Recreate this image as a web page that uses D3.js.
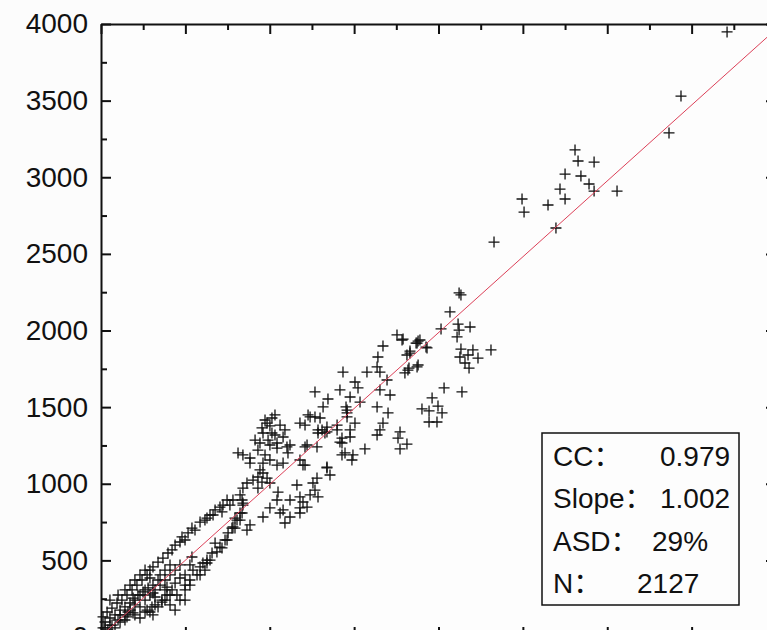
<!DOCTYPE html>
<html>
<head>
<meta charset="utf-8">
<script src="https://cdn.jsdelivr.net/npm/d3@7"></script>
<style>
  body { margin: 0; background: #fcfcfc; }
  svg { display: block; font-family: "Liberation Sans", Arial, "Noto Sans CJK SC", sans-serif; }
</style>
</head>
<body>
<div id="chart"></div>
<script>
// scatter values (x, y pairs)
const xVals = [2809,2827,2922,2750,2844,2892,2720,2922,3058,2750,2495,2507,2649,2696,2329,3710,3437,3366,
  2133,2122,2068,2015,2116,2187,2122,2110,2133,2204,2311,2127,2175,2234,2157,2181,2033,2139,1962,1997,1902,1944,2021,1944,1991,
  1790,1867,1890,1879,1873,1932,1831,1813,1873,1825,1801,
  1754,1784,1926,1671,1831,1641,1879,1819,1636,1576,1653,1434,1695,1505,1523,1416,1268,1653,1713,1345,1476,1535,1316,1636,1458,1701,
  1239,1298,1458,1209,1505,1671,1339,1286,1327,1399,1476,1653,1636,1772,1760,1428,1476,1209,1280,1428,1813,1772,1564,1428,1493,1487,1339,1197,
  1452,1031,1227,1268,1179,984,1001,1061,1458,1310,1339,1399,1286,960,1013,1079,942,990,1043,1102,930,1043,1416,1221,1446,1108,812,841,883,
  1001,960,1043,1079,1179,883,1209,1339,1357,942,960,930,984,954,901,1001,1280,1256,865,841,930,1049,1161,1268,1239,1179,1286,824,782,836,
  1043,1197,1120,747,764,841,705,1001,1179,1221,1079,717,824,1179,1061,664,628,794,960,1120,883,1090,782,
  723,616,587,539,516,480,468,439,421,397,367,338,308,290,273,243,213,184,154,124,95,65,36,12,
  338,308,279,249,219,190,172,142,113,83,53,24,308,361,302,231,190,154,113,65,
  468,439,421,391,361,338,308,273,391,450,
  527,545,587,604,628,569,539,676,687,705,753,776,806,836,841,865,747,658,628,
  53,101,142,201,261,12,41,172,231,290,350,379,409,113,160,201,261,320,379,498,527,83,142,231,290,409,439,498,
  261,290,320,350,379,409,439,468,231,201,172,142,101,53,24,201,261,320,379,409,498,527,468,498,
  587,616,646,717,735,794,824,498,557,646,676,
  972,1013,954,1031,1090,1001,913,972,1120];
const yVals = [3178,3106,3099,3021,3008,2956,2923,2910,2910,2858,2858,2773,2819,2669,2577,3948,3530,3289,
  2232,2245,2121,2010,2042,2023,2003,1958,1879,1873,1873,1827,1840,1820,1788,1755,1625,1599,1560,1507,1488,1475,1462,1403,1403,
  1944,1918,1938,1931,1918,1886,1866,1840,1762,1755,1723,
  1971,1938,1892,1899,1853,1827,1775,1742,1762,1729,1729,1729,1677,1664,1625,1612,1599,1612,1579,1553,1566,1533,1501,1501,1481,1462,
  1436,1429,1436,1383,1396,1396,1370,1351,1331,1351,1351,1351,1318,1338,1298,1298,1305,1240,1240,1266,1259,1227,1227,1188,1188,1155,1109,1122,
  1501,1449,1449,1436,1396,1396,1377,1383,1462,1351,1338,1383,1331,1331,1331,1305,1266,1285,1266,1240,1220,1233,1272,1253,1201,1201,1201,1188,1168,
  1155,1135,1122,1135,1155,1135,1122,1103,1057,1090,1070,1044,1037,1011,1024,1005,1037,1005,1005,972,972,946,992,959,927,914,914,927,894,894,
  894,881,894,894,861,861,848,842,842,848,829,816,809,809,809,796,776,776,783,783,731,744,718,
  861,763,750,711,679,653,620,600,568,548,515,489,457,437,405,372,339,307,274,241,222,189,163,131,
  372,339,320,294,274,254,222,196,176,144,124,98,287,241,196,196,157,131,98,78,
  385,352,307,274,228,196,144,176,326,274,
  470,437,457,483,502,405,522,613,555,587,679,711,763,809,874,698,633,548,483,
  241,274,307,372,437,59,46,339,405,385,405,437,470,144,163,209,241,261,307,339,372,59,111,124,163,209,176,405,
  307,274,307,339,372,405,437,470,274,241,176,144,111,78,59,144,163,209,241,274,307,339,241,241,
  405,437,502,581,633,711,763,633,698,796,829,
  1416,1429,1364,1318,1351,1253,1285,1188,1253];

// fitted line end points
const fitX = [0, 4000];
const fitY = [6, 3966];

const yTicks = [0, 500, 1000, 1500, 2000, 2500, 3000, 3500, 4000];
const minorTicks = [250, 750, 1250, 1750, 2250, 2750, 3250, 3750];

const statLabels = ["CC：", "Slope：", "ASD：", "N："];
const statValues = ["0.979", "1.002", "29%", "2127"];

const width = 767, height = 630;
const margin = ({ top: 24, left: 101 });

const svg = d3.select("#chart")
  .append("svg")
  .attr("width", width)
  .attr("height", height);

svg.append("rect")
  .attr("width", width).attr("height", height)
  .attr("fill", "#fcfcfc");

const x = d3.scaleLinear().domain([0, 4000]).range([margin.left, 776]);
const y = d3.scaleLinear().domain([0, 4000]).range([637, margin.top]);

svg.append("rect") // plot area
  .attr("x", x(0)).attr("y", y(4000))
  .attr("width", x(4000) - x(0)).attr("height", y(0) - y(4000))
  .attr("fill", "#fdfdfd");

// points as plus signs
const pts = xVals.map((v, i) => ({ x: v, y: yVals[i] }));
svg.append("g")
  .selectAll("path")
  .data(pts)
  .join("path")
  .attr("transform", d => `translate(${x(d.x)},${y(d.y)})`)
  .attr("d", "M-5.5,0H5.5M0,-5.5V5.5")
  .attr("stroke", "#111")
  .attr("stroke-width", 1.3)
  .attr("fill", "none");

// regression line
svg.append("line")
  .attr("x1", x(fitX[0])).attr("y1", y(fitY[0]))
  .attr("x2", x(fitX[1])).attr("y2", y(fitY[1]))
  .attr("stroke", "#dc4058")
  .attr("stroke-width", 1);

// axes, ticks pointing inward
function styleAxis(g) {
  g.selectAll(".domain, line").attr("stroke", "#111").attr("stroke-width", 2);
}

svg.append("g")
  .attr("transform", `translate(${x(0)},0)`)
  .call(d3.axisLeft(y).tickValues(yTicks).tickSize(-10).tickSizeOuter(0)
    .tickPadding(13).tickFormat(d3.format("d")))
  .call(styleAxis)
  .call(g => g.selectAll("text").attr("font-size", 28).attr("fill", "#111")
    .attr("font-family", "'Liberation Sans', Arial, sans-serif"));

svg.append("g")
  .attr("transform", `translate(${x(0)},0)`)
  .call(d3.axisLeft(y).tickValues(minorTicks).tickSize(-6).tickFormat(""))
  .call(styleAxis)
  .call(g => g.select(".domain").remove());

svg.append("g")
  .attr("transform", `translate(${x(4000)},0)`)
  .call(d3.axisRight(y).tickValues(yTicks).tickSize(-10).tickSizeOuter(0).tickFormat(""))
  .call(styleAxis);

svg.append("g")
  .attr("transform", `translate(${x(4000)},0)`)
  .call(d3.axisRight(y).tickValues(minorTicks).tickSize(-6).tickFormat(""))
  .call(styleAxis)
  .call(g => g.select(".domain").remove());

svg.append("g")
  .attr("transform", `translate(0,${y(4000)})`)
  .call(d3.axisTop(x).tickValues(yTicks).tickSize(-10).tickSizeOuter(0).tickFormat(""))
  .call(styleAxis);

svg.append("g")
  .attr("transform", `translate(0,${y(4000)})`)
  .call(d3.axisTop(x).tickValues(minorTicks).tickSize(-6).tickFormat(""))
  .call(styleAxis)
  .call(g => g.select(".domain").remove());

svg.append("g")
  .attr("transform", `translate(0,${y(0)})`)
  .call(d3.axisBottom(x).tickValues(yTicks).tickSize(-10).tickSizeOuter(0).tickFormat(""))
  .call(styleAxis);

svg.append("g")
  .attr("transform", `translate(0,${y(0)})`)
  .call(d3.axisBottom(x).tickValues(minorTicks).tickSize(-6).tickFormat(""))
  .call(styleAxis)
  .call(g => g.select(".domain").remove());

// statistics box
const box = svg.append("g");
box.append("rect")
  .attr("x", 542).attr("y", 433)
  .attr("width", 197).attr("height", 172)
  .attr("fill", "#fdfdfd")
  .attr("stroke", "#111")
  .attr("stroke-width", 1.5);

const valueX = [660, 660, 652, 637];
statLabels.forEach((lab, i) => {
  const by = 466 + i * 42.3;
  box.append("text")
    .attr("x", 553).attr("y", by)
    .attr("font-size", 28).attr("fill", "#111")
    .text(lab);
  box.append("text")
    .attr("x", valueX[i]).attr("y", by)
    .attr("font-size", 28).attr("fill", "#111")
    .attr("font-family", "'Liberation Sans', Arial, sans-serif")
    .text(statValues[i]);
});
</script>
</body>
</html>
